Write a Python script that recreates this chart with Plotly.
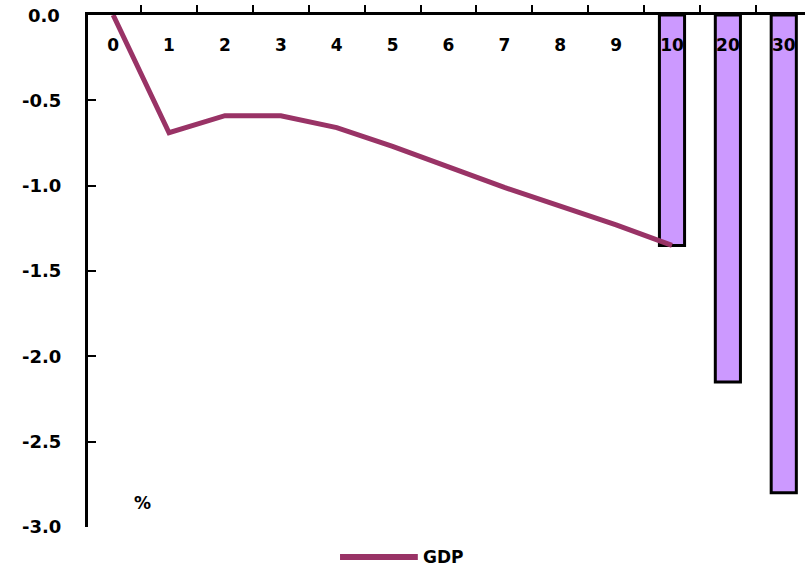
import plotly.graph_objects as go

# Horizon categories (years after shock)
categories = ["0", "1", "2", "3", "4", "5", "6", "7", "8", "9", "10", "20", "30"]

# GDP deviation path, years 0-10 (%)
line_years = ["0", "1", "2", "3", "4", "5", "6", "7", "8", "9", "10"]
gdp_path = [0.0, -0.69, -0.59, -0.59, -0.66, -0.77, -0.89, -1.01, -1.12, -1.23, -1.35]

# Long-run GDP deviation (%)
bar_years = ["10", "20", "30"]
gdp_long = [-1.35, -2.15, -2.80]

# Y-axis ticks
y_ticks = [0.0, -0.5, -1.0, -1.5, -2.0, -2.5, -3.0]
y_labels = ["0.0", "-0.5", "-1.0", "-1.5", "-2.0", "-2.5", "-3.0"]

FONT = "DejaVu Sans"
LINE_COLOR = "#993366"
Y_FONT = dict(family=FONT, size=18, color="black", weight="bold")
Y_STANDOFF = 20

fig = go.Figure()

fig.add_trace(go.Bar(
    x=bar_years, y=gdp_long, width=0.45,
    marker=dict(color="#CC99FF", line=dict(color="black", width=3)),
    showlegend=False,
))

fig.add_trace(go.Scatter(
    x=line_years, y=gdp_path, mode="lines", name="GDP",
    line=dict(color=LINE_COLOR, width=5),
    showlegend=False,
))

# The top tick label of the y axis sits where the x axis crosses, so it is
# placed as an annotation to keep it visible
fig.add_annotation(text=y_labels[0], xref="paper", yref="y",
                   x=0, y=y_ticks[0], xanchor="right", yanchor="middle",
                   xshift=-(Y_STANDOFF + 6), showarrow=False, font=Y_FONT)

# Legend entry drawn below the plot
fig.add_shape(type="line", xref="paper", yref="paper",
              x0=0.3515, x1=0.460, y0=-0.0586, y1=-0.0586,
              line=dict(color=LINE_COLOR, width=6))
fig.add_annotation(text="<b>GDP</b>", xref="paper", yref="paper",
                   x=0.465, y=-0.0586, xanchor="left", yanchor="middle",
                   showarrow=False, font=dict(family=FONT, size=17, color="black"))

# Unit label
fig.add_annotation(text="<b>%</b>", xref="paper", yref="paper",
                   x=0.0767, y=0.047, xanchor="center", yanchor="middle",
                   showarrow=False, font=dict(family=FONT, size=17, color="black"))

fig.update_layout(
    width=805, height=571,
    margin=dict(l=88, r=0, t=15, b=44),
    paper_bgcolor="white", plot_bgcolor="white",
    font=dict(family=FONT, size=16, color="black"),
    bargap=0.55,
    xaxis=dict(
        type="category", categoryorder="array", categoryarray=categories,
        range=[-0.45, 12.38],
        side="top", anchor="y", position=1,
        showline=True, linecolor="black", linewidth=3,
        ticks="outside", ticklen=7, tickwidth=2, tickcolor="black",
        tickson="boundaries",
        ticklabelposition="inside",
        ticklabelstandoff=25,
        tickfont=dict(family=FONT, size=17, color="black", weight="bold"),
        showgrid=False, zeroline=False,
    ),
    yaxis=dict(
        range=[-3.0, 0.0],
        tickvals=y_ticks, ticktext=y_labels,
        showline=True, linecolor="black", linewidth=3,
        ticks="inside", ticklen=8, tickwidth=2, tickcolor="black",
        ticklabelstandoff=Y_STANDOFF,
        tickfont=Y_FONT,
        showgrid=False, zeroline=False,
    ),
)

fig.write_html("out.html")
